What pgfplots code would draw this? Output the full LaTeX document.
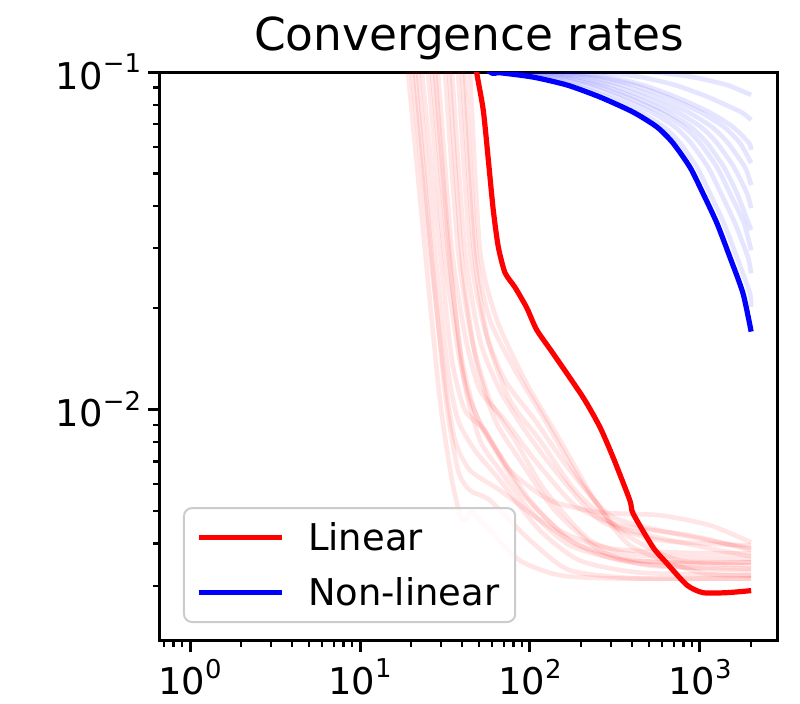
\documentclass[border=0pt]{standalone}
\usepackage{fontspec}
\setmainfont{DejaVu Sans}
\usepackage{pgfplots}
\pgfplotsset{compat=1.18}
\newcommand{\tl}[1]{10\raisebox{0.45em}{\fontsize{13}{13}\selectfont #1}}
\pgfplotsset{
  faintR/.style={red, draw opacity=0.1, line width=2.3bp, forget plot, line join=round, smooth, tension=0.4},
  faintB/.style={blue, draw opacity=0.1, line width=2.3bp, forget plot, line join=round, smooth, tension=0.4},
}
\begin{document}
\begin{tikzpicture}
\begin{axis}[
  scale only axis, width=309bp, height=284bp,
  xmode=log, ymode=log,
  xmin=0.666, xmax=2877, ymin=0.00207, ymax=0.1,
  xtick={1,10,100,1000}, xticklabels={\tl{0},\tl{1},\tl{2},\tl{3}},
  minor xtick={0.7,0.8,0.9,2,3,4,5,6,7,8,9,20,30,40,50,60,70,80,90,200,300,400,500,600,700,800,900,2000},
  ytick={0.01,0.1}, yticklabels={\tl{−2},\tl{−1}},
  minor ytick={0.003,0.004,0.005,0.006,0.007,0.008,0.009,0.02,0.03,0.04,0.05,0.06,0.07,0.08,0.09},
  tick align=outside, xtick pos=bottom, ytick pos=left,
  major tick length=6bp, minor tick length=3.5bp,
  major tick style={black, line width=1.5bp},
  minor tick style={black, line width=1.1bp},
  axis line style={line width=1.5bp},
  ticklabel style={font=\fontsize{18.5}{22}\selectfont},
  title={Convergence rates},
  title style={font=\fontsize{22.8}{26}\selectfont, at={(0.5,1)}, anchor=base, yshift=5bp},
  legend cell align=left,
  legend image code/.code={\draw[#1] (0bp,0bp) -- (41.5bp,0bp);},
  legend style={at={(0,0)}, anchor=south west, xshift=11.5bp, yshift=8.5bp,
    draw=black!20, line width=1bp, rounded corners=4bp, fill=white, fill opacity=0.8, text opacity=1,
    font=\fontsize{18.5}{22}\selectfont, inner xsep=6bp, inner ysep=5bp, row sep=8bp,
    /tikz/every odd column/.append style={column sep=10bp}},
]
% faint red runs
\addplot[faintR] coordinates {(19.16,0.1) (24.12,0.0296) (29.55,0.01063) (34.77,0.00616) (39.81,0.00469) (45.6,0.00495) (58.18,0.00437) (87.35,0.00356) (150.1,0.00322) (338.3,0.00315) (2000,0.00315)};
\addplot[faintR] coordinates {(20.23,0.1) (25.81,0.0296) (31.62,0.01219) (36.23,0.00809) (44.37,0.00659) (66.62,0.00575) (114.5,0.00469) (196.9,0.00395) (443.7,0.00356) (1000,0.00349) (2000,0.00344)};
\addplot[faintR] coordinates {(21.94,0.1) (27.62,0.0296) (32.94,0.01305) (37.73,0.00928) (47.49,0.00755) (66.62,0.00616) (114.5,0.00437) (196.9,0.00356) (443.7,0.00328) (2000,0.00322)};
\addplot[faintR] coordinates {(23.15,0.1) (29.55,0.0296) (34.77,0.01398) (41.46,0.00993) (54.36,0.00866) (76.28,0.00659) (131.1,0.00537) (258.1,0.00495) (581.7,0.00485) (1145,0.00453) (2000,0.00403)};
\addplot[faintR] coordinates {(25.12,0.1) (31.2,0.0296) (37.73,0.01497) (44.37,0.01063) (58.18,0.00809) (87.35,0.00575) (150.1,0.00437) (295.5,0.00387) (762.7,0.00376) (2000,0.00374)};
\addplot[faintR] coordinates {(26.51,0.1) (32.94,0.0296) (39.81,0.01398) (49.45,0.00928) (66.62,0.0073) (100,0.00537) (171.9,0.00409) (338.3,0.00356) (1000,0.00337) (2000,0.00333)};
\addplot[faintR] coordinates {(28.77,0.1) (34.77,0.0296) (42.03,0.01602) (50.8,0.01138) (71.29,0.00928) (107,0.00706) (183.9,0.00519) (338.3,0.00453) (873.4,0.00423) (2000,0.00382)};
\addplot[faintR] coordinates {(31.62,0.1) (37.73,0.0296) (45.6,0.01602) (58.18,0.01063) (81.63,0.00809) (122.5,0.00575) (225.4,0.00409) (443.7,0.00369) (2000,0.00361)};
\addplot[faintR] coordinates {(34.77,0.1) (41.46,0.0296) (50.8,0.01602) (66.62,0.01138) (93.46,0.00866) (140.3,0.00659) (258.1,0.00469) (581.7,0.00409) (2000,0.00395)};
\addplot[faintR] coordinates {(37.73,0.1) (44.37,0.0296) (54.36,0.01716) (71.29,0.01219) (107,0.00928) (171.9,0.00659) (295.5,0.00485) (581.7,0.00437) (2000,0.00387)};
\addplot[faintR] coordinates {(41.46,0.1) (48.13,0.0296) (58.18,0.01837) (81.63,0.01305) (122.5,0.00928) (196.9,0.00616) (338.3,0.00437) (762.7,0.00356) (2000,0.00352)};
\addplot[faintR] coordinates {(44.37,0.1) (50.8,0.0296) (63.97,0.01837) (93.46,0.01219) (150.1,0.00809) (241.2,0.00537) (387.4,0.00395) (1000,0.00328) (2000,0.00322)};
\addplot[faintR] coordinates {(21.06,0.1) (26.51,0.02767) (32.06,0.01063) (37.73,0.00659) (44.37,0.00575) (58.18,0.00537) (100,0.00409) (171.9,0.00333) (443.7,0.00315) (2000,0.00315)};
\addplot[faintR] coordinates {(27.62,0.1) (33.84,0.02767) (40.91,0.01219) (50.8,0.00809) (66.62,0.00659) (100,0.00501) (171.9,0.00395) (387.4,0.00356) (2000,0.00352)};
\addplot[faintR] coordinates {(39.81,0.1) (46.84,0.0296) (56.61,0.01602) (76.28,0.01063) (114.5,0.00809) (183.9,0.00575) (316.2,0.00453) (666.1,0.00409) (2000,0.00366)};
\addplot[faintR] coordinates {(33.39,0.1) (39.81,0.02767) (48.13,0.01398) (62.26,0.00928) (87.35,0.00706) (140.3,0.00501) (258.1,0.00382) (508,0.00344) (2000,0.00337)};
% faint blue runs
\addplot[faintB] coordinates {(63.97,0.1) (73.25,0.0995) (114.5,0.0966) (181.5,0.0915) (283.8,0.0843) (443.6,0.0761) (614.2,0.0687) (762.7,0.0616) (960.3,0.0522) (1145,0.0437) (1384,0.0356) (1651,0.0282) (1968,0.0221) (2000,0.02008)};
\addplot[faintB] coordinates {(74.24,0.1) (85.01,0.0995) (132.8,0.0966) (210.7,0.0915) (329.4,0.0843) (514.9,0.0761) (712.8,0.0687) (885.2,0.0616) (1114.6,0.0522) (1328,0.0437) (1607,0.0356) (1917,0.0282) (2000,0.0253)};
\addplot[faintB] coordinates {(83.85,0.1) (96.02,0.0995) (150,0.0966) (238,0.0915) (372,0.0843) (581.6,0.0761) (805.1,0.0687) (999.8,0.0616) (1258.8,0.0522) (1500,0.0437) (1815,0.0356) (2000,0.0296)};
\addplot[faintB] coordinates {(92.21,0.1) (105.6,0.0995) (165,0.0966) (261.7,0.0915) (409.1,0.0843) (639.5,0.0761) (885.3,0.0687) (1099.5,0.0616) (1384.3,0.0522) (1650,0.0437) (2000,0.0340)};
\addplot[faintB] coordinates {(105.6,0.1) (120.9,0.0995) (188.9,0.0966) (299.6,0.0915) (468.4,0.0843) (732.3,0.0761) (1013.8,0.0687) (1259,0.0616) (1585,0.0522) (1889,0.0437) (2000,0.0395)};
\addplot[faintB] coordinates {(122.5,0.1) (140.3,0.0995) (219.3,0.0966) (347.7,0.0915) (543.6,0.0843) (849.9,0.0761) (1176.6,0.0687) (1461.1,0.0616) (1839.6,0.0522) (2000,0.0462)};
\addplot[faintB] coordinates {(144.2,0.1) (165.1,0.0995) (258,0.0966) (409.2,0.0915) (639.7,0.0843) (1000,0.0761) (1384.4,0.0687) (1719.3,0.0616) (2000,0.0537)};
\addplot[faintB] coordinates {(162.9,0.1) (186.5,0.0995) (291.5,0.0966) (462.2,0.0915) (722.6,0.0843) (1129.7,0.0761) (1563.9,0.0687) (1942.2,0.0616) (2000,0.0587)};
\addplot[faintB] coordinates {(251.3,0.1) (287.7,0.0995) (449.6,0.0966) (713,0.0915) (1114.6,0.0843) (1742.5,0.0761) (2000,0.0721)};
\addplot[faintB] coordinates {(508.1,0.1) (581.8,0.0995) (909.2,0.0966) (1441.9,0.0915) (2000,0.0855)};
% main curves
\addplot[red, line width=2.6bp, line join=round, smooth, tension=0.4] coordinates {(45,0.13) (48.6,0.0995) (53.1,0.0771) (56.9,0.0548) (60.8,0.0390) (65.1,0.0303) (71.3,0.0254) (81.6,0.0230) (95.7,0.0200) (109.5,0.0172) (136.5,0.01466) (205,0.01086) (258,0.00885) (308,0.00721) (387,0.00537) (404,0.00491) (529,0.00390) (640,0.00349) (839,0.00301) (1042,0.00286) (1443,0.00286) (2000,0.00290)};
\addlegendentry{Linear}
\addplot[blue, line width=2.6bp, line join=round, smooth, tension=0.4] coordinates {(40,0.12) (58.18,0.1) (66.62,0.0995) (104.1,0.0966) (165.1,0.0915) (258.1,0.0843) (403.5,0.0761) (558.6,0.0687) (693.7,0.0616) (873.4,0.0522) (1041,0.0437) (1259,0.0356) (1502,0.0282) (1790,0.0221) (2000,0.0170)};
\addlegendentry{Non-linear}
\end{axis}
\path ([shift={(-80bp,-32bp)}]current axis.south west) rectangle ([shift={(11bp,36bp)}]current axis.north east);
\end{tikzpicture}
\end{document}
